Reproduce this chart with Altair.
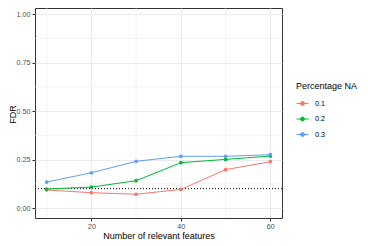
import altair as alt
import pandas as pd

features = [10, 20, 30, 40, 50, 60]
na_levels = ["0.1", "0.2", "0.3"]
fdr_na01 = [0.093, 0.079, 0.071, 0.096, 0.198, 0.239]
fdr_na02 = [0.098, 0.108, 0.141, 0.234, 0.251, 0.268]
fdr_na03 = [0.134, 0.182, 0.241, 0.267, 0.267, 0.275]
fdr_target = [0.1]
x_ticks = [20, 40, 60]
y_ticks = [0.0, 0.25, 0.5, 0.75, 1.0]
x_minor = [10, 30, 50]
y_minor = [0.125, 0.375, 0.625, 0.875]
palette = ["#F8766D", "#00BA38", "#619CFF"]

rows = []
for lvl, vals in zip(na_levels, [fdr_na01, fdr_na02, fdr_na03]):
    for f, v in zip(features, vals):
        rows.append({"features": f, "fdr": v, "na": lvl})
df = pd.DataFrame(rows)

FONT = "Liberation Sans"
xscale = alt.Scale(domain=[7.4, 62.6], nice=False, zero=False)
yscale = alt.Scale(domain=[-0.0516, 1.0325], nice=False, zero=False)
xaxis = alt.Axis(values=x_ticks, title="Number of relevant features", grid=True,
                 gridColor="#EBEBEB", gridWidth=1, domain=False, tickColor="#333333",
                 tickSize=3, labelFontSize=7.2, labelColor="#4D4D4D", labelFont=FONT,
                 labelPadding=1, titleFont=FONT, titleFontSize=9, titleFontWeight="normal",
                 titleColor="#000000", titlePadding=2)
yaxis = alt.Axis(values=y_ticks, format=".2f", title="FDR", grid=True,
                 gridColor="#EBEBEB", gridWidth=1, domain=False, tickColor="#333333",
                 tickSize=3, labelFontSize=7.2, labelColor="#4D4D4D", labelFont=FONT,
                 labelPadding=2, titleFont=FONT, titleFontSize=9, titleFontWeight="normal",
                 titleColor="#000000", titleX=-17.5, titleY=106, titleAngle=270,
                 titleBaseline="bottom", titleAlign="center")

X = lambda f: alt.X(f, type="quantitative", scale=xscale, axis=xaxis)
Y = lambda f: alt.Y(f, type="quantitative", scale=yscale, axis=yaxis)

minor_x = alt.Chart(pd.DataFrame({"features": x_minor})).mark_rule(
    color="#EBEBEB", strokeWidth=0.6).encode(x=X("features"))
minor_y = alt.Chart(pd.DataFrame({"fdr": y_minor})).mark_rule(
    color="#EBEBEB", strokeWidth=0.6).encode(y=Y("fdr"))
target = alt.Chart(pd.DataFrame({"fdr": fdr_target})).mark_rule(
    color="#000000", strokeWidth=1, strokeDash=[1, 2]).encode(y=Y("fdr"))

color = alt.Color("na:N", scale=alt.Scale(domain=na_levels, range=palette),
                  legend=alt.Legend(
                      title="Percentage NA", orient="none", legendX=261, legendY=74,
                      symbolType="M-1,0L1,0M-0.33,0A0.33,0.33 0 1,0 0.33,0A0.33,0.33 0 1,0 -0.33,0Z",
                      symbolSize=144, symbolStrokeWidth=1, rowPadding=4.5,
                      labelFont=FONT, labelFontSize=7.2, labelColor="#000000", labelOffset=6,
                      titleFont=FONT, titleFontSize=9, titleFontWeight="normal",
                      titleColor="#000000", titlePadding=6))

lines = alt.Chart(df).mark_line(strokeWidth=1).encode(x=X("features"), y=Y("fdr"), color=color)
points = alt.Chart(df).mark_point(filled=True, size=14, opacity=1).encode(
    x=X("features"), y=Y("fdr"), color=color)

chart = alt.layer(minor_x, minor_y, target, lines, points).properties(
    width=247, height=210,
    autosize=alt.AutoSizeParams(type="none"),
    padding={"left": 27, "top": 0, "right": 78, "bottom": 28},
).configure_view(stroke="#333333", strokeWidth=1)

chart.save("out.html", embed_options={"renderer": "svg", "actions": False})
